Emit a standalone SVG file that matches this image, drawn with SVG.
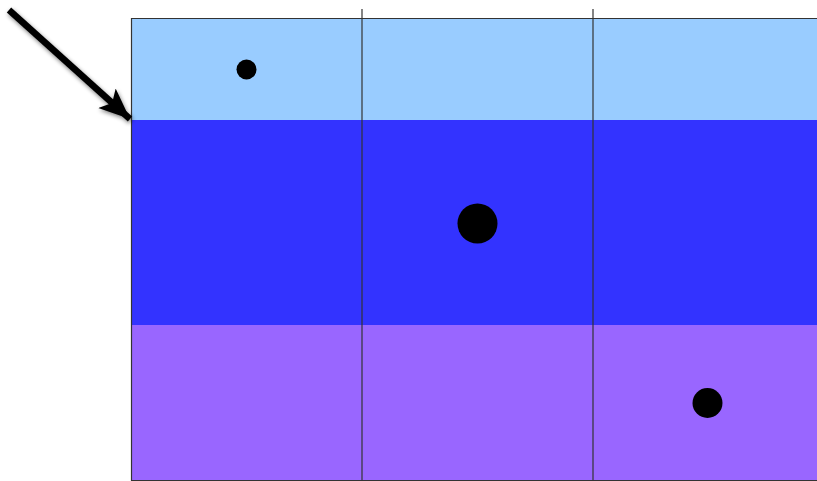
<svg xmlns="http://www.w3.org/2000/svg" width="817" height="481" viewBox="0 0 817 481">
  <defs>
    <style>
      .grid { stroke: #333; stroke-width: 1.2; fill: none; }
      .dot { fill: #000; }
    </style>
    <marker id="head" markerUnits="userSpaceOnUse" markerWidth="34" markerHeight="30" refX="31" refY="14" orient="auto">
      <path d="M0,1 L31,14 L0,27 L7,14 Z" fill="#000"/>
    </marker>
    <filter id="shadow" x="-20%" y="-20%" width="140%" height="140%">
      <feGaussianBlur in="SourceAlpha" stdDeviation="2"/>
      <feOffset dx="1" dy="2" result="b"/>
      <feComponentTransfer><feFuncA type="linear" slope="0.5"/></feComponentTransfer>
      <feMerge><feMergeNode/><feMergeNode in="SourceGraphic"/></feMerge>
    </filter>
  </defs>
  <rect width="817" height="481" fill="#fff"/>
  <g id="band-top"><rect x="131" y="18" width="690" height="102" fill="#99ccff"/></g>
  <g id="band-middle"><rect x="131" y="120" width="690" height="205" fill="#3333ff"/></g>
  <g id="band-bottom"><rect x="131" y="325" width="690" height="155" fill="#9966ff"/></g>
  <g id="frame">
    <path class="grid" d="M818,18.5 H131.5 V480.5 H818"/>
    <line class="grid" x1="362" y1="9" x2="362" y2="481"/>
    <line class="grid" x1="593" y1="9" x2="593" y2="481"/>
  </g>
  <g id="dot-1"><circle class="dot" cx="246.5" cy="69.5" r="10"/></g>
  <g id="dot-2"><circle class="dot" cx="477.5" cy="223.5" r="20"/></g>
  <g id="dot-3"><circle class="dot" cx="707.5" cy="403" r="15"/></g>
  <g id="connectors">
    <line x1="9" y1="10" x2="130" y2="119" stroke="#000" stroke-width="6.5" marker-end="url(#head)" filter="url(#shadow)"/>
  </g>
</svg>
